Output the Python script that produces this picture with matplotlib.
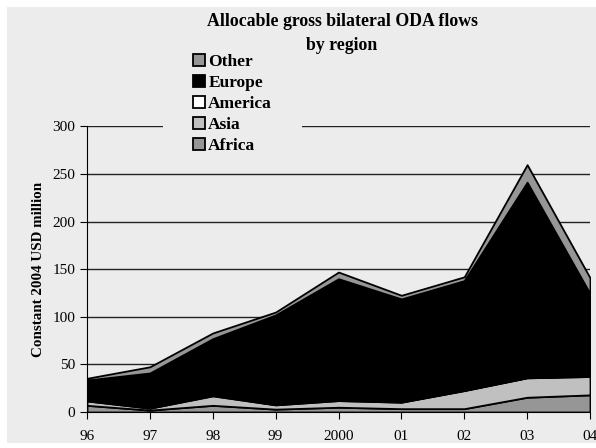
import matplotlib
matplotlib.use("Agg")
import matplotlib.pyplot as plt
from matplotlib.patches import Rectangle

years = ["96", "97", "98", "99", "2000", "01", "02", "03", "04"]
africa = [7, 2, 7, 3, 5, 3.5, 3.5, 15.5, 18]
america = [1, 0.5, 1, 0.5, 1, 0.5, 0.5, 0.5, 0.5]
asia = [4.6, 2, 10, 4.5, 7, 6.8, 19, 20.4, 19.3]
europe = [21, 36.5, 59, 94, 127, 108, 115, 205, 86.7]
other = [1.8, 6.5, 6, 3, 7, 3.8, 4, 18.4, 16.5]

series = [("Africa", africa, "#969696"),
          ("Asia", asia, "#c0c0c0"),
          ("America", america, "#ffffff"),
          ("Europe", europe, "#000000"),
          ("Other", other, "#969696")]

bg = "#ececec"
plt.rcParams["font.family"] = ["Liberation Serif", "DejaVu Serif"]

fig = plt.figure(figsize=(5.96, 4.48), dpi=100)
fig.patch.set_facecolor("white")
fig.patches.append(Rectangle((7 / 596, 5 / 448), 589 / 596, 436 / 448,
                             transform=fig.transFigure, facecolor=bg,
                             edgecolor="none", zorder=-10))
ax = fig.add_axes([87 / 596, 36 / 448, 503 / 596, 285.6 / 448])
ax.set_facecolor(bg)

x = list(range(len(years)))
ax.stackplot(x, *[s[1] for s in series], colors=[s[2] for s in series],
             labels=[s[0] for s in series], edgecolor="black", linewidth=1.3,
             zorder=2)

ax.set_xlim(0, len(years) - 1)
ax.set_ylim(0, 300)
ax.set_yticks(range(0, 301, 50))
ax.set_xticks(x)
ax.set_xticklabels(years)
ax.yaxis.grid(True, color="#222222", linewidth=1.0, zorder=0)
ax.set_axisbelow(True)
for s in ["top", "right"]:
    ax.spines[s].set_visible(False)
ax.spines["left"].set_color("black")
ax.spines["bottom"].set_color("black")
ax.spines["bottom"].set_zorder(3)
ax.tick_params(axis="both", labelsize=11, length=5, color="black", direction="out")
ax.tick_params(axis="x", pad=8)

ax.set_ylabel("Constant 2004 USD million", fontsize=10.8, fontweight="bold", labelpad=5)

fig.text(342 / 596, 1 - 22 / 448, "Allocable gross bilateral ODA flows", ha="center", va="center",
         fontsize=12.8, fontweight="bold", zorder=10)
fig.text(342 / 596, 1 - 46 / 448, "by region", ha="center", va="center",
         fontsize=12.8, fontweight="bold", zorder=10)

# background-coloured block behind the legend that interrupts the top gridline
ax.add_patch(Rectangle((163 / 596, 1 - 136 / 448), 139 / 596, 20 / 448,
                       transform=fig.transFigure, facecolor=bg, edgecolor="none",
                       zorder=4, clip_on=False))

handles, labels = ax.get_legend_handles_labels()
leg = ax.legend(handles[::-1], labels[::-1], loc="upper left",
                bbox_to_anchor=(193 / 596, 1 - 54 / 448), bbox_transform=fig.transFigure,
                frameon=False,
                prop={"size": 12.5, "weight": "bold"}, handlelength=0.68,
                handleheight=0.68, handletextpad=0.2, labelspacing=0.28,
                borderpad=0, borderaxespad=0)
leg.set_zorder(5)
for h in leg.legend_handles:
    h.set_edgecolor("black")
    h.set_linewidth(1.3)

fig.savefig("out.png", dpi=100, facecolor=fig.get_facecolor())
